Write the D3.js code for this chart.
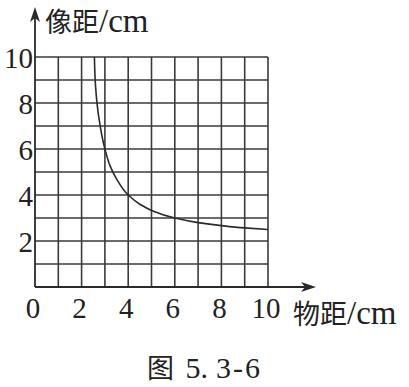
<!DOCTYPE html>
<html><head><meta charset="utf-8">
<script src="https://cdn.jsdelivr.net/npm/d3@7"></script>
<style>body{margin:0;background:#fff}svg{display:block}</style>
</head><body>
<script>
const objectDist = [2.55, 2.6, 2.75, 3, 3.25, 3.5, 4, 4.5, 5, 6, 7, 8, 9, 10];
const imageDist  = [10, 8.7, 7.3, 6, 5.2, 4.7, 4, 3.6, 3.33, 3, 2.8, 2.67, 2.57, 2.5];
const xTickLabels = [0, 2, 4, 6, 8, 10];
const yTickLabels = [2, 4, 6, 8, 10];
const gridValues = [0,1,2,3,4,5,6,7,8,9,10];
const xTitleCn = "物距", yTitleCn = "像距", unit = "/cm";
const captionCn = "图", captionParts = [" 5.", "3-6"];

const W = 409, H = 387;
const svg = d3.select("body").append("svg").attr("width", W).attr("height", H);
const x = d3.scaleLinear().domain([0, 10]).range([35, 268]);
const y = d3.scaleLinear().domain([0, 10]).range([287, 57]);
const ink = "#2a2a2a";
const serif = "'Liberation Serif','DejaVu Serif',serif";
const cjk = "'Noto Sans CJK SC','Liberation Serif',serif";

// grid
const g = svg.append("g").attr("stroke", "#3a3a3a").attr("stroke-width", 1.6);
g.selectAll("line.v").data(gridValues.slice(1)).join("line")
  .attr("x1", d => x(d)).attr("x2", d => x(d)).attr("y1", y(0)).attr("y2", y(10));
g.selectAll("line.h").data(gridValues.slice(1)).join("line")
  .attr("y1", d => y(d)).attr("y2", d => y(d)).attr("x1", x(0)).attr("x2", x(10));

// axes with arrows
svg.append("line").attr("x1", x(0)).attr("y1", y(0)).attr("x2", 313).attr("y2", y(0))
  .attr("stroke", ink).attr("stroke-width", 1.8);
svg.append("path").attr("d", `M316,${y(0)} l-15,-5 l4,5 l-4,5 Z`).attr("fill", ink);
svg.append("line").attr("x1", x(0)).attr("y1", y(0)).attr("x2", x(0)).attr("y2", 10)
  .attr("stroke", ink).attr("stroke-width", 1.8);
svg.append("path").attr("d", `M${x(0)},7 l-5,15 l5,-4 l5,4 Z`).attr("fill", ink);

// curve
const pts = objectDist.map((u, i) => [u, imageDist[i]]);
svg.append("path").datum(pts)
  .attr("d", d3.line().x(d => x(d[0])).y(d => y(d[1])).curve(d3.curveMonotoneY))
  .attr("fill", "none").attr("stroke", ink).attr("stroke-width", 1.6);

// tick labels
svg.selectAll("text.xt").data(xTickLabels).join("text")
  .attr("x", d => x(d) - 2).attr("y", 318).attr("text-anchor", "middle")
  .attr("font-family", serif).attr("font-size", 29).attr("fill", "#222").text(d => d);
svg.selectAll("text.yt").data(yTickLabels).join("text")
  .attr("x", 33).attr("y", d => y(d) + 11).attr("text-anchor", "end")
  .attr("font-family", serif).attr("font-size", 29).attr("fill", "#222").text(d => d);

// titles
function title(xp, yp, cn) {
  const t = svg.append("text").attr("x", xp).attr("y", yp).attr("fill", "#222");
  t.append("tspan").attr("font-family", cjk).attr("font-size", 27).text(cn);
  t.append("tspan").attr("font-family", serif).attr("font-size", 33).text(unit);
}
title(45, 32, yTitleCn);
title(293, 324, xTitleCn);

// caption
const cap = svg.append("text").attr("x", 147).attr("y", 378).attr("fill", "#222");
cap.append("tspan").attr("font-family", cjk).attr("font-size", 27).text(captionCn);
cap.append("tspan").attr("dx", 4).attr("font-family", serif).attr("font-size", 30).text(captionParts[0]);
cap.append("tspan").attr("dx", 8).attr("font-family", serif).attr("font-size", 30).attr("letter-spacing", 2).text(captionParts[1]);
</script>
</body></html>
